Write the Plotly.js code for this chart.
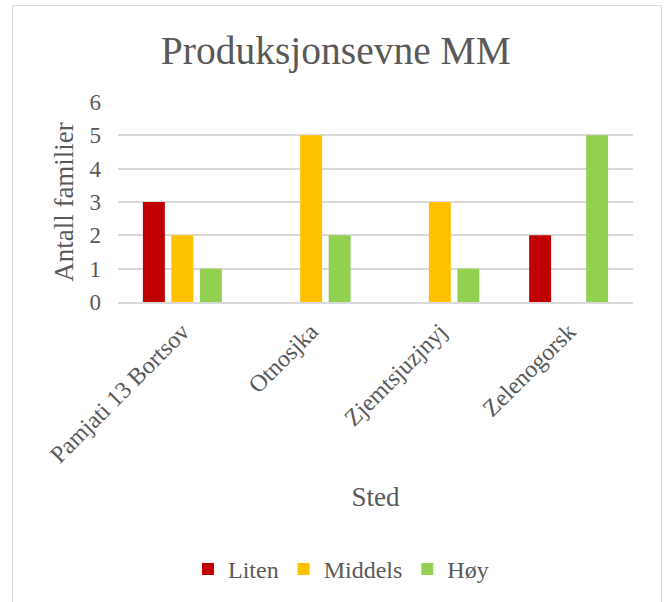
<!DOCTYPE html>
<html>
<head>
<meta charset="utf-8">
<script src="https://cdn.plot.ly/plotly-3.0.1.min.js"></script>
<style>
html,body{margin:0;padding:0;background:#fff;}
#wrap{position:relative;width:665px;height:602px;}
#chart{position:absolute;left:0;top:0;width:665px;height:602px;}
#frame{position:absolute;left:12px;top:5px;width:650px;height:600px;border:1.5px solid #d9d9d9;box-sizing:border-box;pointer-events:none;}
</style>
</head>
<body>
<div id="wrap"><div id="chart"></div><div id="frame"></div></div>
<script>
const categories = ["Pamjati 13 Bortsov", "Otnosjka", "Zjemtsjuzjnyj", "Zelenogorsk"];
const liten = [3, null, null, 2];
const middels = [2, 5, 3, null];
const hoy = [1, 2, 1, 5];
const seriesNames = ["Liten", "Middels", "Høy"];
const colors = ["#c00000", "#ffc000", "#92d050"];
const yTicks = [0, 1, 2, 3, 4, 5, 6];

const font = "Garamond, 'Liberation Serif', 'DejaVu Serif', serif";
const grey = "#595959";

const traces = [liten, middels, hoy].map((vals, i) => ({
  type: "bar",
  name: seriesNames[i],
  x: categories,
  y: vals,
  marker: {color: colors[i]},
  hoverinfo: "x+y+name"
}));

const layout = {
  width: 665, height: 602,
  margin: {l: 118, r: 32, t: 102, b: 299},
  paper_bgcolor: "rgba(0,0,0,0)",
  plot_bgcolor: "#fff",
  barmode: "group",
  bargap: 0.336,
  bargroupgap: 0.23,
  font: {family: font, color: grey, size: 23},
  title: {text: "Produksjonsevne MM", font: {family: font, size: 39.5, color: grey}, x: 0.505, xanchor: "center", y: 0.917, yanchor: "middle"},
  xaxis: {
    type: "category",
    tickangle: -45,
    tickfont: {family: font, size: 24, color: grey},
    showgrid: false,
    showline: true, linecolor: "#d9d9d9", linewidth: 2,
    ticks: "",
    ticklabelstandoff: 4,
    title: {text: "Sted", font: {family: font, size: 27, color: grey}, standoff: 20}
  },
  yaxis: {
    range: [0, 6],
    tickvals: yTicks,
    ticktext: yTicks.map(String),
    tickfont: {family: font, size: 23, color: grey},
    showgrid: true, gridcolor: "#d9d9d9", gridwidth: 1.7,
    zeroline: false,
    showline: false,
    ticks: "",
    ticklabelstandoff: 16,
    title: {text: "Antall familier", font: {family: font, size: 27, color: grey}, standoff: 8}
  },
  legend: {
    orientation: "h",
    x: 0.433, xanchor: "center",
    y: -1.325, yanchor: "middle",
    font: {family: font, size: 24, color: grey},
    itemwidth: 20,
    traceorder: "normal"
  },
  showlegend: true
};

Plotly.newPlot("chart", traces, layout, {displayModeBar: false, staticPlot: true});
</script>
</body>
</html>
